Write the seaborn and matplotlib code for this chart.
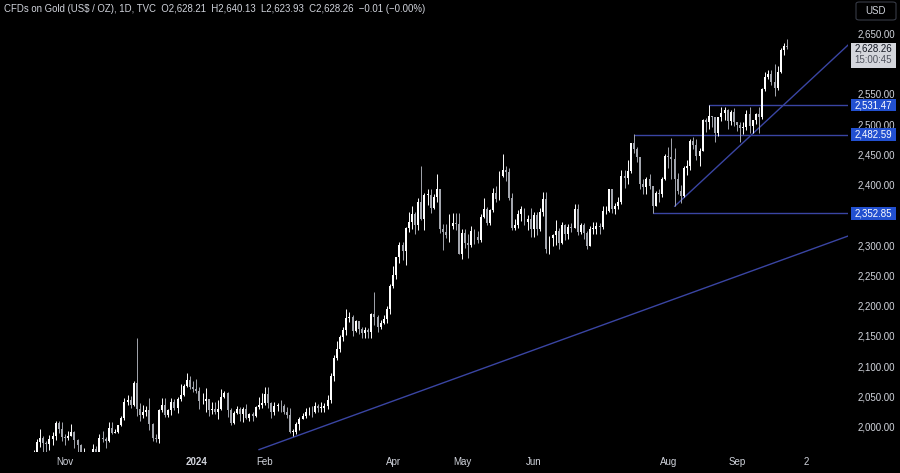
# Gold CFD daily candles (TradingView style) - seaborn / matplotlib
import numpy as np
import matplotlib
matplotlib.use("Agg")
import matplotlib.pyplot as plt
import matplotlib.transforms as mtransforms
from matplotlib.patches import Rectangle, FancyBboxPatch
import seaborn as sns

# -------------------------------
# 1. Data (daily high / low / close)
# -------------------------------
first_open = 1923

oct23_c = [1947, 1974, 1981, 1973, 1971, 1979, 1985, 2006, 1996, 1983]
oct23_h = [1962, 1980, 1997, 1985, 1976, 1986, 1991, 2009, 2009, 2007]
oct23_l = [1922, 1942, 1966, 1953, 1954, 1962, 1970, 1978, 1990, 1976]

nov23_c = [1982, 1985, 1992, 1978, 1969, 1950, 1958, 1940, 1946, 1963, 1959,
           1981, 1980, 1977, 1998, 1990, 1992, 2002, 2014, 2041, 2044, 2036]
nov23_h = [1988, 1993, 2004, 1993, 1979, 1972, 1965, 1959, 1947, 1971, 1968,
           1988, 1993, 1983, 2007, 2008, 1997, 2003, 2018, 2048, 2052, 2051]
nov23_l = [1970, 1978, 1984, 1965, 1958, 1947, 1945, 1935, 1931, 1944, 1956,
           1956, 1975, 1965, 1975, 1988, 1989, 1990, 2001, 2011, 2036, 2031]

dec23_c = [2072, 2029, 2019, 2025, 2028, 2004, 1982, 1980, 2027, 2036,
           2020, 2027, 2040, 2031, 2046, 2053, 2067, 2077, 2065, 2063]
dec23_h = [2075, 2146, 2039, 2036, 2035, 2047, 2006, 1988, 2030, 2047,
           2048, 2029, 2047, 2046, 2049, 2071, 2070, 2088, 2084, 2075]
dec23_l = [2035, 2018, 2010, 2015, 2017, 1994, 1976, 1974, 1973, 2024,
           2016, 2016, 2020, 2028, 2023, 2043, 2051, 2066, 2062, 2058]

jan24_c = [2059, 2042, 2043, 2045, 2028, 2030, 2024, 2029, 2049, 2055, 2028,
           2006, 2023, 2029, 2021, 2029, 2014, 2021, 2018, 2032, 2036, 2039]
jan24_h = [2079, 2065, 2055, 2064, 2046, 2041, 2040, 2044, 2062, 2059, 2057,
           2031, 2026, 2035, 2033, 2033, 2037, 2023, 2025, 2035, 2049, 2056]
jan24_l = [2055, 2030, 2038, 2024, 2017, 2021, 2021, 2013, 2028, 2047, 2016,
           2002, 2004, 2021, 2010, 2008, 2013, 2010, 2009, 2016, 2030, 2031]

feb24_c = [2054, 2039, 2025, 2035, 2035, 2034, 2024, 2020, 1992, 1992, 2004,
           2013, 2018, 2024, 2025, 2024, 2035, 2031, 2031, 2034, 2044]
feb24_h = [2065, 2066, 2040, 2040, 2039, 2044, 2038, 2032, 2031, 1997, 2008,
           2016, 2022, 2031, 2033, 2035, 2041, 2038, 2040, 2039, 2052]
feb24_l = [2036, 2031, 2014, 2020, 2026, 2025, 2021, 2015, 1990, 1984, 1988,
           1995, 2013, 2014, 2020, 2016, 2022, 2025, 2025, 2024, 2030]

mar24_c = [2083, 2114, 2128, 2148, 2159, 2179, 2182, 2158, 2174, 2162,
           2155, 2160, 2157, 2186, 2181, 2165, 2172, 2178, 2194, 2233]
mar24_h = [2088, 2119, 2141, 2152, 2165, 2195, 2189, 2185, 2177, 2175,
           2165, 2164, 2163, 2188, 2223, 2184, 2176, 2184, 2199, 2236]
mar24_l = [2039, 2076, 2110, 2123, 2141, 2151, 2173, 2150, 2156, 2154,
           2146, 2146, 2146, 2146, 2168, 2157, 2161, 2170, 2172, 2186]

apr24_c = [2251, 2280, 2300, 2291, 2329, 2339, 2352, 2333, 2372, 2344, 2383,
           2383, 2361, 2379, 2392, 2327, 2322, 2316, 2332, 2337, 2335, 2286]
apr24_h = [2266, 2281, 2305, 2305, 2330, 2354, 2365, 2354, 2378, 2431, 2386,
           2392, 2392, 2384, 2417, 2392, 2335, 2335, 2352, 2353, 2353, 2353]
apr24_l = [2229, 2244, 2270, 2276, 2268, 2321, 2327, 2319, 2325, 2341, 2325,
           2367, 2353, 2359, 2371, 2320, 2292, 2311, 2306, 2326, 2325, 2285]

may24_c = [2320, 2304, 2301, 2324, 2314, 2309, 2346, 2360, 2336, 2358, 2386, 2376,
           2415, 2425, 2421, 2378, 2329, 2334, 2351, 2360, 2338, 2343, 2327]
may24_h = [2326, 2327, 2319, 2331, 2326, 2323, 2351, 2378, 2363, 2359, 2395, 2397,
           2422, 2450, 2430, 2427, 2386, 2344, 2358, 2364, 2362, 2350, 2361]
may24_l = [2277, 2295, 2278, 2297, 2302, 2303, 2306, 2345, 2333, 2334, 2354, 2371,
           2374, 2413, 2406, 2374, 2325, 2325, 2328, 2340, 2334, 2325, 2314]

jun24_c = [2350, 2327, 2355, 2376, 2294, 2311, 2316, 2324, 2303, 2333,
           2319, 2330, 2328, 2360, 2322, 2334, 2320, 2298, 2327, 2327]
jun24_h = [2354, 2354, 2361, 2388, 2388, 2315, 2318, 2342, 2328, 2338,
           2335, 2335, 2336, 2368, 2368, 2337, 2337, 2323, 2332, 2339]
jun24_l = [2314, 2316, 2323, 2349, 2287, 2286, 2299, 2300, 2294, 2302,
           2308, 2310, 2322, 2328, 2316, 2318, 2310, 2293, 2299, 2318]

jul24_c = [2332, 2330, 2356, 2356, 2392, 2359, 2364, 2371, 2415, 2411, 2422, 2469,
           2459, 2445, 2401, 2396, 2409, 2398, 2364, 2387, 2384, 2410, 2448]
jul24_h = [2338, 2336, 2365, 2364, 2393, 2393, 2370, 2380, 2424, 2424, 2440, 2469,
           2483, 2463, 2446, 2409, 2412, 2417, 2398, 2390, 2392, 2412, 2451]
jul24_l = [2319, 2318, 2326, 2352, 2354, 2353, 2352, 2360, 2368, 2395, 2401, 2420,
           2452, 2437, 2392, 2385, 2385, 2393, 2353, 2365, 2371, 2380, 2407]

aug24_c = [2446, 2443, 2410, 2390, 2382, 2427, 2431, 2472, 2465, 2447, 2456,
           2507, 2503, 2514, 2512, 2485, 2512, 2518, 2524, 2505, 2520, 2503]
aug24_h = [2462, 2477, 2461, 2420, 2400, 2430, 2440, 2476, 2479, 2476, 2460,
           2509, 2510, 2531, 2514, 2509, 2512, 2528, 2528, 2525, 2524, 2526]
aug24_l = [2427, 2410, 2364, 2385, 2370, 2380, 2416, 2424, 2459, 2440, 2431,
           2456, 2487, 2492, 2495, 2471, 2481, 2505, 2507, 2492, 2499, 2497]

sep24_c = [2499, 2493, 2495, 2516, 2497, 2506, 2516, 2512, 2558,
           2578, 2582, 2569, 2559, 2586, 2622, 2628.27, 2628.26]
sep24_h = [2504, 2503, 2503, 2523, 2529, 2507, 2518, 2529, 2560,
           2586, 2590, 2590, 2600, 2596, 2625, 2634, 2640.13]
sep24_l = [2488, 2471, 2484, 2490, 2485, 2486, 2500, 2486, 2509,
           2554, 2574, 2565, 2546, 2556, 2585, 2614, 2623.93]

# x-axis labels: (trading-day index, label)
tick_idx = [10, 52, 74, 115, 137, 160, 203, 225, 247]
tick_lab = ["Nov", "2024", "Feb", "Apr", "May", "Jun", "Aug", "Sep", "2"]

# price scale labels (2,350 and 2,600 sit under the price boxes)
price_ticks = [2000, 2050, 2100, 2150, 2200, 2250, 2300, 2400, 2450, 2500, 2550, 2650]

# drawn levels (start index, price) and trend lines (two anchor points)
levels = [(216, 2531.47), (192, 2482.59), (198, 2352.85)]
trend_short_x = [205, 261]
trend_short_y = [2364, 2633]
trend_long_x = [72, 261]
trend_long_y = [1962, 2316]

header = ("CFDs on Gold (US\\$ / OZ), 1D, TVC  O2,628.21  H2,640.13  "
          "L2,623.93  C2,628.26  \u22120.01 (\u22120.00%)")

# -------------------------------
# 2. Build series
# -------------------------------
close = np.array(oct23_c + nov23_c + dec23_c + jan24_c + feb24_c + mar24_c +
                 apr24_c + may24_c + jun24_c + jul24_c + aug24_c + sep24_c, float)
high = np.array(oct23_h + nov23_h + dec23_h + jan24_h + feb24_h + mar24_h +
                apr24_h + may24_h + jun24_h + jul24_h + aug24_h + sep24_h, float)
low = np.array(oct23_l + nov23_l + dec23_l + jan24_l + feb24_l + mar24_l +
               apr24_l + may24_l + jun24_l + jul24_l + aug24_l + sep24_l, float)
opn = np.r_[first_open, close[:-1]]
x = np.arange(len(close))

# -------------------------------
# 3. Style
# -------------------------------
BG = "#000000"
TXT = "#d1d4dc"
LINE = "#3a45a3"
BLUE = "#2250d0"

sns.set_theme(style="dark", rc={"axes.facecolor": BG, "figure.facecolor": BG})
plt.rcParams["font.family"] = ["Liberation Sans", "DejaVu Sans"]

fig = plt.figure(figsize=(9, 4.73), dpi=100)
ax = fig.add_axes([0, 21 / 473, 848 / 900, 452 / 473])
ax.set_facecolor(BG)

# -------------------------------
# 4. Candles
# -------------------------------
up = close >= opn
cols = np.where(up, "#ffffff", "#a3a6ae")
ax.vlines(x, low, high, colors=cols, lw=0.7, zorder=2)
body_lo = np.minimum(opn, close)
body_h = np.maximum(np.abs(close - opn), 0.8)
ax.bar(x, body_h, bottom=body_lo, width=0.62, color=cols, linewidth=0, zorder=3)

# -------------------------------
# 5. Drawings
# -------------------------------
xmax = 260.5
for start, price in levels:
    sns.lineplot(x=[start, xmax + 5], y=[price, price], ax=ax, color=LINE, lw=1, zorder=1)
sns.lineplot(x=trend_short_x, y=trend_short_y, ax=ax, color=LINE, lw=1, zorder=1)
sns.lineplot(x=trend_long_x, y=trend_long_y, ax=ax, color=LINE, lw=1, zorder=1)

ax.set_xlim(-10.8, xmax)
ax.set_ylim(1958.2, 2705.1)

# axes / ticks
for s in ax.spines.values():
    s.set_visible(False)
ax.grid(False)
ax.yaxis.tick_right()
ax.set_yticks(price_ticks)
ax.set_yticklabels([f"{v:,.2f}" for v in price_ticks])
ax.tick_params(axis="y", length=0, pad=7.2, labelsize=7, labelcolor=TXT)
ax.set_xticks(tick_idx)
ax.set_xticklabels(tick_lab)
ax.tick_params(axis="x", length=0, pad=3.5, labelsize=7, labelcolor=TXT)
ax.get_xticklabels()[1].set_fontweight("bold")
ax.set_xlabel("")
ax.set_ylabel("")

# price label boxes on the axis
trans = mtransforms.blended_transform_factory(ax.transAxes, ax.transData)
bw = 45 / 848
for _, price in levels:
    ax.add_patch(Rectangle((1.0035, price - 10.5), bw, 21, transform=trans,
                           facecolor=BLUE, edgecolor="none", clip_on=False, zorder=10))
    ax.text(1.0035 + bw / 2, price, f"{price:,.2f}", transform=trans, ha="center",
            va="center", color="white", fontsize=7, zorder=11, clip_on=False)

last = close[-1]
ax.add_patch(Rectangle((1.0035, last - 36), bw, 42, transform=trans,
                       facecolor="#d4d6dc", edgecolor="none", clip_on=False, zorder=10))
ax.text(1.0035 + bw / 2, last - 3, f"{last:,.2f}", transform=trans, ha="center",
        va="center", color="#131722", fontsize=7, zorder=11, clip_on=False)
ax.text(1.0035 + bw / 2, last - 23, "15:00:45", transform=trans, ha="center",
        va="center", color="#50535e", fontsize=7, zorder=11, clip_on=False)

# USD button
fig.patches.append(FancyBboxPatch((856 / 900, 1 - 20 / 473), 40 / 900, 18 / 473,
                                  boxstyle="round,pad=0,rounding_size=0.004",
                                  transform=fig.transFigure, facecolor=BG,
                                  edgecolor="#363a45", lw=0.8))
fig.text(876 / 900, 1 - 11 / 473, "USD", ha="center", va="center", color=TXT, fontsize=7)

# header
fig.text(4 / 900, 1 - 9 / 473, header, ha="left", va="center", color=TXT, fontsize=6.9)

fig.savefig("out.png", dpi=100, facecolor=BG)
